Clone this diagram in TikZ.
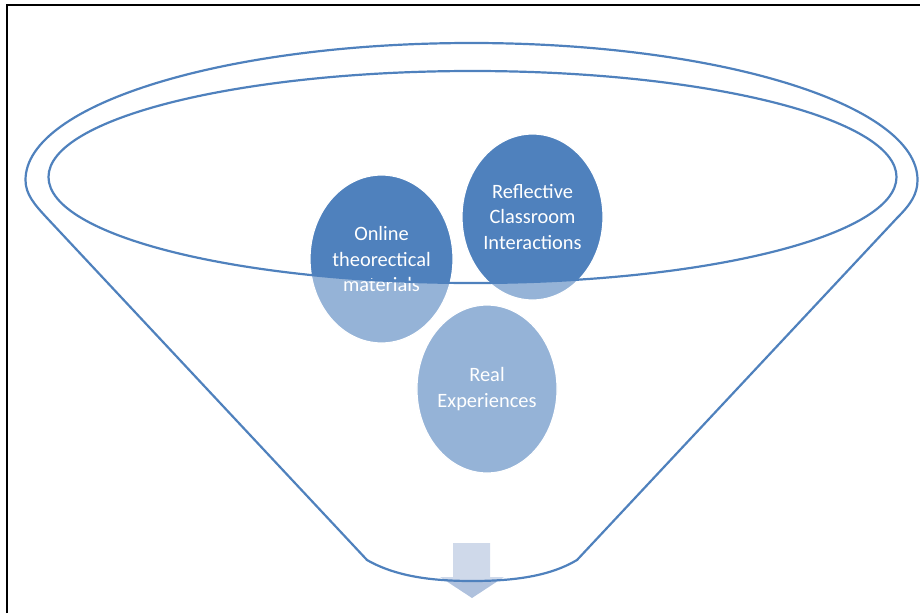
\documentclass[tikz,border=0pt]{standalone}
\usepackage{fontspec}
\setmainfont{Carlito}
\usetikzlibrary{shapes.geometric}
\definecolor{fblue}{HTML}{4F81BD}
\definecolor{arrowc}{HTML}{AFC1DD}
\tikzset{
  bubble/.style={ellipse, fill=fblue, draw=white, line width=1.2pt, inner sep=0pt,
    text=white, align=center, font=\fontsize{20.4}{25.5}\selectfont},
  rim/.style={draw=fblue, line width=2.2pt},
  frameline/.style={draw=black, line width=2pt}
}
\begin{document}
\begin{tikzpicture}[x=1pt,y=-1pt]
\useasboundingbox (0,0) rectangle (920,613);
% arrow at the bottom
\fill[arrowc] (453,543) -- (490,543) -- (490,577) -- (504,577) -- (472,598) -- (440,577) -- (453,577) -- cycle;
% bubbles
\node[bubble, minimum width=143pt, minimum height=168pt] (online) at (381.5,259) {Online\\theorectical\\materials};
\node[bubble, minimum width=141pt, minimum height=166pt] (reflect) at (532.5,217) {Reflective\\Classroom\\Interactions};
\node[bubble, minimum width=140pt, minimum height=168pt] (real) at (487,389) {Real\\Experiences};
% translucent front of the funnel
\fill[white, fill opacity=0.4, even odd rule]
  (25.5,180) arc[start angle=180,end angle=360,x radius=446,y radius=137]
  .. controls (917.5,194) and (911,204) .. (897,218) -- (577,560)
  .. controls (550,576) and (515,581) .. (472,581)
  .. controls (430,581) and (395,576) .. (367,560) -- (47,218)
  .. controls (34,204) and (25.5,194) .. (25.5,180) -- cycle
  (472.5,177) ellipse [x radius=424, y radius=106];
% funnel outline
\draw[rim]
  (25.5,180) arc[start angle=180,end angle=360,x radius=446,y radius=137]
  .. controls (917.5,194) and (911,204) .. (897,218) -- (577,560)
  .. controls (550,576) and (515,581) .. (472,581)
  .. controls (430,581) and (395,576) .. (367,560) -- (47,218)
  .. controls (34,204) and (25.5,194) .. (25.5,180) -- cycle;
\draw[rim] (472.5,177) ellipse [x radius=424, y radius=106];
% frame
\coordinate (fA) at (7,613);
\coordinate (fB) at (7,4.5);
\coordinate (fC) at (920,4.5);
\draw[frameline] (fA) -- (fB) -- (fC);
\end{tikzpicture}
\end{document}
